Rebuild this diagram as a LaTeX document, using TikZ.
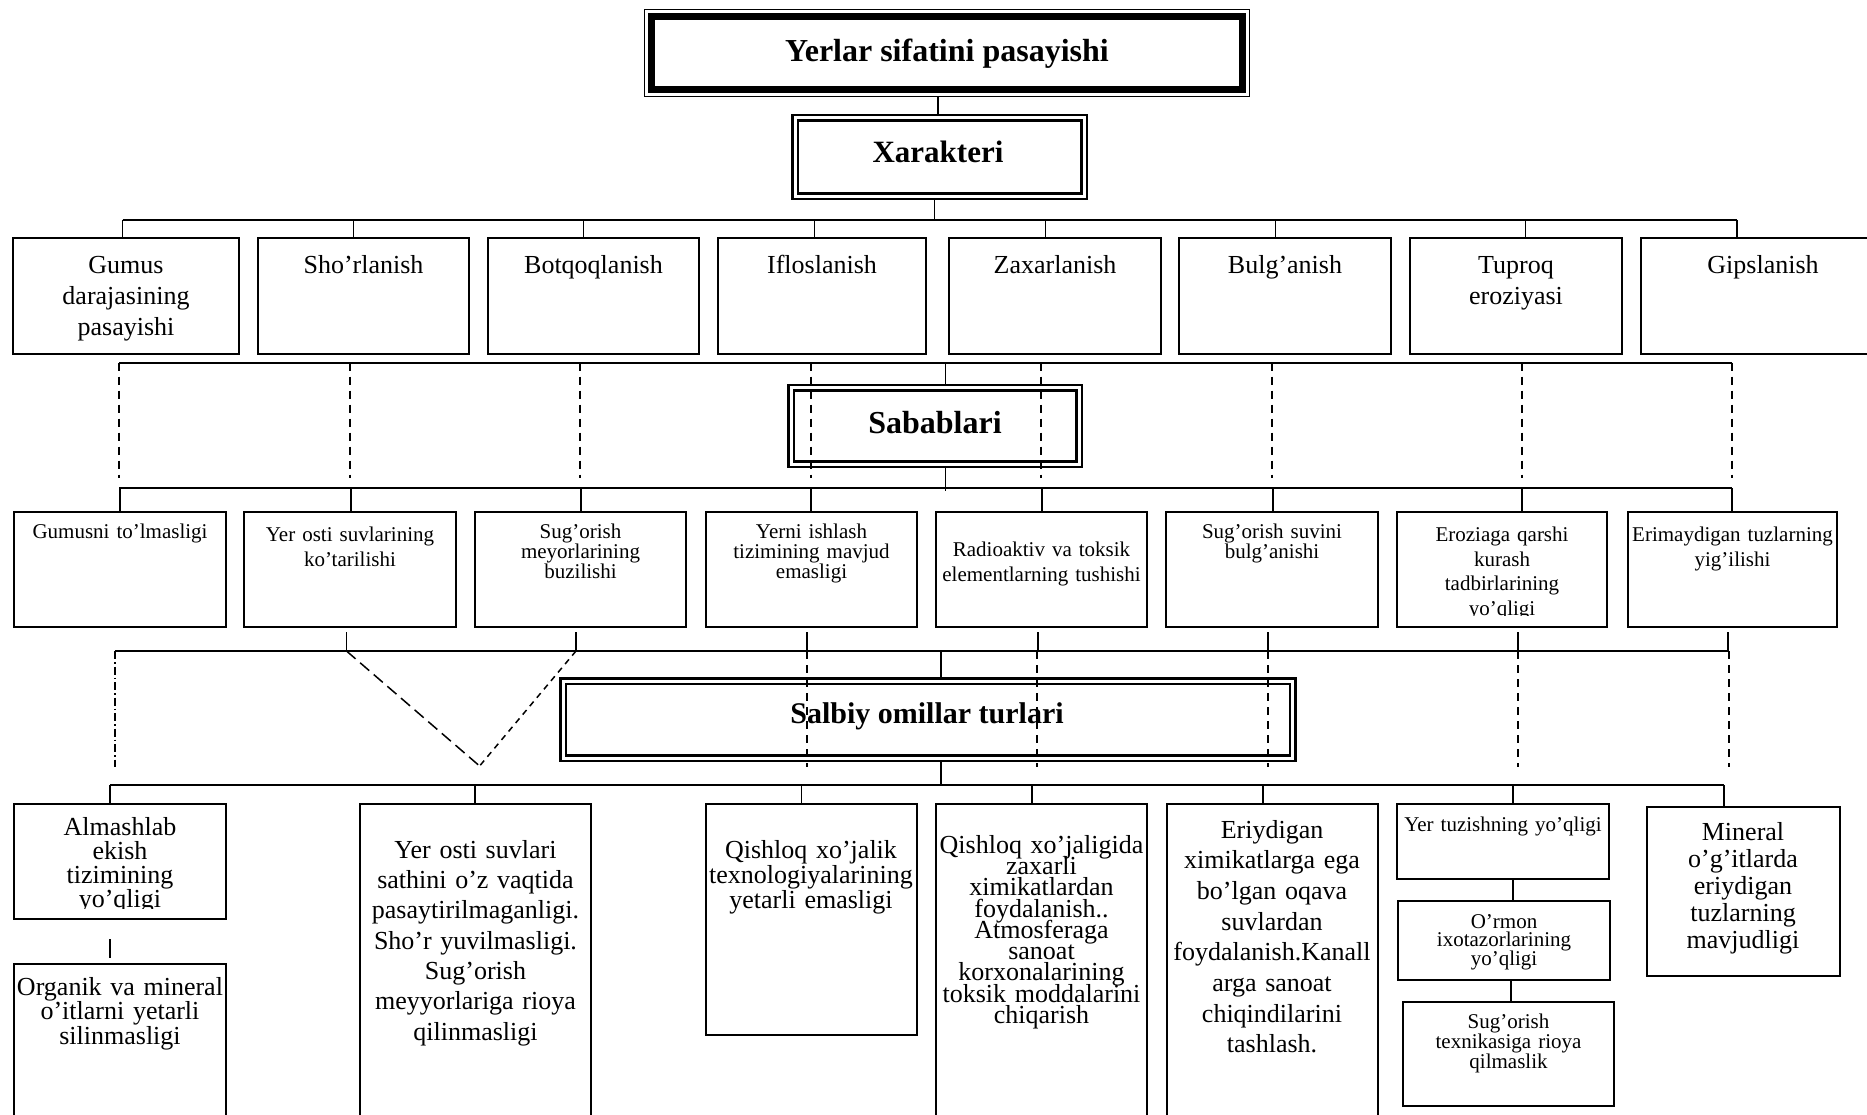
\documentclass[tikz,border=0pt]{standalone}
\usepackage{fontspec}
\setmainfont{Liberation Serif}
\usetikzlibrary{calc}
\newcommand\fsz[2]{\fontsize{#1}{#2}\selectfont\lineskiplimit=-100pt\relax}
\newcommand\bx[6][box]{\node[#1, minimum width={(#5-#3)*1pt}, minimum height={(#6-#4)*1pt}] (#2) at ({(#3+#5)/2},{(#4+#6)/2}) {};}
\newcommand\inner[1]{\draw[line width=2.6pt] ($(#1.north west)+(5.5,5.5)$) rectangle ($(#1.south east)+(-5.5,-5.5)$);}
\begin{document}
\begin{tikzpicture}[x=1pt,y=-1pt,
  box/.style={draw, line width=2pt, rectangle, inner sep=0pt, outer sep=0pt},
  thinbox/.style={draw, line width=1.2pt, rectangle, inner sep=0pt, outer sep=0pt},
  dbox/.style={draw, line width=2.2pt, rectangle, inner sep=0pt, outer sep=0pt},
  conn/.style={line width=1.5pt},
  bus/.style={line width=2.2pt},
  dsh/.style={line width=1.5pt, dash pattern=on 8pt off 6pt},
  ddot/.style={line width=1.5pt, dash pattern=on 8pt off 3pt on 1.5pt off 3pt},
  longdsh/.style={line width=1.5pt, dash pattern=on 12pt off 6pt},
  shortdsh/.style={line width=1.5pt, dash pattern=on 6pt off 5pt},
  txt/.style={anchor=base, align=center, text width=300pt, inner sep=0pt, outer sep=0pt},
  ttl/.style={anchor=base, inner sep=0pt, outer sep=0pt}]
\useasboundingbox (0,0) rectangle (1867,1115);
\fill[white] (0,0) rectangle (1867,1115);
\clip (0,0) rectangle (1867,1115);

% ---- top box
\bx[thinbox]{top}{644.5}{9.8}{1249.5}{96.5}
\draw[line width=7.4pt] ($(top.north west)+(6.8,6.8)$) rectangle ($(top.south east)+(-6.8,-6.8)$);
\node[ttl, font=\bfseries\fsz{32}{38}] (toptxt) at (947,62) {Yerlar sifatini pasayishi};

% ---- Xarakteri
\bx[dbox]{xar}{792.5}{115}{1087}{199}
\inner{xar}
\node[ttl, font=\bfseries\fsz{31}{36}] (xartxt) at (938,163) {Xarakteri};

\coordinate (c0) at (938,0);
\draw[conn] (c0 |- top.south) -- (c0 |- xar.north);
\coordinate (c1) at (934.7,0);
\coordinate (b0l) at (122.6,220);
\coordinate (b0r) at (1737.2,220);
\draw[conn] (c1 |- xar.south) -- (c1 |- b0l);
\draw[bus] (b0l) -- (b0r);

% ---- row 1
\bx{r1a}{12.7}{238.3}{239.3}{354}
\bx{r1b}{258}{238.3}{469}{354}
\bx{r1c}{488}{238.3}{699}{354}
\bx{r1d}{718}{238.3}{926}{354}
\bx{r1e}{949}{238.3}{1161}{354}
\bx{r1f}{1179}{238.3}{1391}{354}
\bx{r1g}{1410}{238.3}{1622}{354}
\bx{r1h}{1641}{238.3}{1885}{354}
\foreach \n/\x in {a/122.6,b/353.6,c/583.4,d/814.4,e/1045.4,f/1275.6,g/1525.3,h/1737.2}{
  \coordinate (d1\n) at (\x,220);
  \draw[conn] (d1\n) -- (d1\n |- r1\n.north);
}
\node[txt, font=\fsz{26}{31}] (t1a) at (126,273) {Gumus\\darajasining\\pasayishi};
\node[txt, font=\fsz{26}{31}] (t1b) at (363.5,273) {Sho’rlanish};
\node[txt, font=\fsz{26}{31}] (t1c) at (593.5,273) {Botqoqlanish};
\node[txt, font=\fsz{26}{31}] (t1d) at (822,273) {Ifloslanish};
\node[txt, font=\fsz{26}{31}] (t1e) at (1055,273) {Zaxarlanish};
\node[txt, font=\fsz{26}{31}] (t1f) at (1285,273) {Bulg’anish};
\node[txt, font=\fsz{26}{31}] (t1g) at (1516,273) {Tuproq\\eroziyasi};
\node[txt, font=\fsz{26}{31}] (t1h) at (1763,273) {Gipslanish};

% ---- bus 1 and Sabablari
\coordinate (b1l) at (119,362.7);
\coordinate (b1r) at (1732,362.7);
\draw[bus] (b1l) -- (b1r);
\bx[dbox]{sab}{788.5}{385}{1082}{467}
\inner{sab}
\node[ttl, font=\bfseries\fsz{32}{38}] (sabtxt) at (935,433) {Sabablari};
\coordinate (c2) at (945.4,362.7);
\draw[conn] (c2) -- (c2 |- sab.north);
\coordinate (c3) at (945.4,491);
\draw[conn] (c3 |- sab.south) -- (c3);
\foreach \i/\x in {1/119,2/350,3/580,4/811,5/1041,6/1272,7/1522,8/1732}{
  \coordinate (q\i) at (\x,362.7);
  \coordinate (p\i) at (\x,478);
  \draw[dsh] (q\i) -- (p\i);
}

% ---- bus 2 and row 2
\coordinate (b2l) at (119,488);
\coordinate (b2r) at (1732,488);
\draw[line width=2.8pt] (b2l) -- (b2r);
\bx{r2a}{14}{511.5}{225.7}{626.7}
\bx{r2b}{244}{511.5}{456}{626.7}
\bx{r2c}{475}{511.5}{686}{626.7}
\bx{r2d}{706}{511.5}{917}{626.7}
\bx{r2e}{936}{511.5}{1147}{626.7}
\bx{r2f}{1166}{511.5}{1378}{626.7}
\bx{r2g}{1397}{511.5}{1607}{626.7}
\bx{r2h}{1628}{511.5}{1837}{626.7}
\foreach \n/\x in {a/120,b/351,c/581,d/811,e/1042,f/1273,g/1522,h/1732}{
  \coordinate (d2\n) at (\x,488);
  \draw[conn] (d2\n) -- (d2\n |- r2\n.north);
}
\node[txt, font=\fsz{21}{25}] (t2a) at (120,538) {Gumusni to’lmasligi};
\node[txt, font=\fsz{21}{25}] (t2b) at (350,541.6) {Yer osti suvlarining\\ko’tarilishi};
\node[txt, font=\fsz{21}{20}] (t2c) at (580.5,538) {Sug’orish\\meyorlarining\\buzilishi};
\node[txt, font=\fsz{21}{20}] (t2d) at (811.5,538) {Yerni ishlash\\tizimining mavjud\\emasligi};
\node[txt, font=\fsz{21}{25}] (t2e) at (1041.5,556) {Radioaktiv va toksik\\elementlarning tushishi};
\node[txt, font=\fsz{21}{20}] (t2f) at (1272,538) {Sug’orish suvini\\bulg’anishi};
\begin{scope}
  \clip (r2g.north west) rectangle ($(r2g.south east)+(0,-11)$);
  \node[txt, font=\fsz{21}{24.6}] (t2g) at (1502,541.6) {Eroziaga qarshi\\kurash\\tadbirlarining\\yo’qligi};
\end{scope}
\node[txt, font=\fsz{21}{25}] (t2h) at (1732.5,541.6) {Erimaydigan tuzlarning\\yig’ilishi};

% ---- ticks, bus 3
\foreach \i/\x in {1/346.5,2/576,3/807,4/1038,5/1268,6/1518,7/1728}{
  \coordinate (k\i) at (\x,632);
  \coordinate (m\i) at (\x,651);
  \draw[conn] (k\i) -- (m\i);
}
\coordinate (b3l) at (115,651);
\coordinate (b3r) at (1728,651);
\draw[bus] (b3l) -- (b3r);

% ---- Salbiy box
\bx[dbox]{sal}{560.5}{678.5}{1295.5}{761}
\inner{sal}
\node[ttl, font=\bfseries\fsz{30}{36}] (saltxt) at (927,723) {Salbiy omillar turlari};
\coordinate (c4) at (941,651);
\draw[conn] (c4) -- (c4 |- sal.north);
\coordinate (b4l) at (110,785);
\coordinate (b4r) at (1724,785);
\draw[conn] (c4 |- sal.south) -- (c4 |- b4l);

% dashed lines through Salbiy level
\coordinate (e0) at (115,767);
\draw[ddot] (b3l) -- (e0);
\foreach \i/\x in {3/807,4/1037,5/1268,6/1518,7/1729}{
  \coordinate (e\i) at (\x,767);
  \draw[dsh] (\x,651) coordinate (s\i) -- (e\i);
}
\coordinate (vtip) at (479.6,766);
\draw[longdsh] (m1) -- (vtip);
\draw[shortdsh] (m2) -- (vtip);

% ---- bus 4 and row 3
\draw[bus] (b4l) -- (b4r);
\bx{r3a}{14}{804}{226}{919}
\bx{r3aa}{14}{964}{226}{1135}
\bx{r3b}{360}{804}{591}{1135}
\bx{r3c}{706}{804}{917}{1035}
\bx{r3d}{936}{804}{1147}{1135}
\bx{r3e}{1167}{804}{1378}{1135}
\bx{r3f}{1397}{804}{1609}{879}
\bx{r3g}{1398}{901}{1610}{980}
\bx{r3h}{1403}{1002}{1614}{1106}
\bx{r3i}{1647}{807}{1840}{976}
\foreach \n/\x in {a/110,b/475,c/801.5,d/1032,e/1263,f/1513,i/1724}{
  \coordinate (d3\n) at (\x,785);
  \draw[conn] (d3\n) -- (d3\n |- r3\n.north);
}
\coordinate (ta1) at (110,939);
\coordinate (ta2) at (110,958);
\draw[conn] (ta1) -- (ta2);
\coordinate (fg) at (1513,0);
\draw[conn] (fg |- r3f.south) -- (fg |- r3g.north);
\coordinate (gh) at (1511,0);
\draw[conn] (gh |- r3g.south) -- (gh |- r3h.north);

\begin{scope}
  \clip (r3a.north west) rectangle ($(r3a.south east)+(0,-11)$);
  \node[txt, font=\fsz{26}{24.3}] (t3a) at (120,835) {Almashlab\\ekish\\tizimining\\yo’qligi};
\end{scope}
\node[txt, font=\fsz{26}{24.5}] (t3aa) at (120,995) {Organik va mineral\\o’itlarni yetarli\\silinmasligi};
\node[txt, font=\fsz{26}{30.3}] (t3b) at (475.5,858.3) {Yer osti suvlari\\sathini o’z vaqtida\\pasaytirilmaganligi.\\Sho’r yuvilmasligi.\\Sug’orish\\meyyorlariga rioya\\qilinmasligi};
\node[txt, font=\fsz{26}{25}] (t3c) at (811,858) {Qishloq xo’jalik\\texnologiyalarining\\yetarli emasligi};
\node[txt, font=\fsz{26}{21.25}] (t3d) at (1041.5,853.3) {Qishloq xo’jaligida\\zaxarli\\ximikatlardan\\foydalanish..\\Atmosferaga\\sanoat\\korxonalarining\\toksik moddalarini\\chiqarish};
\node[txt, font=\fsz{26}{30.7}] (t3e) at (1272,838) {Eriydigan\\ximikatlarga ega\\bo’lgan oqava\\suvlardan\\foydalanish.Kanall\\arga sanoat\\chiqindilarini\\tashlash.};
\node[txt, font=\fsz{21}{25}] (t3f) at (1503,831) {Yer tuzishning yo’qligi};
\node[txt, font=\fsz{21}{18.7}] (t3g) at (1504,928) {O’rmon\\ixotazorlarining\\yo’qligi};
\node[txt, font=\fsz{21}{20}] (t3h) at (1508.5,1028) {Sug’orish\\texnikasiga rioya\\qilmaslik};
\node[txt, font=\fsz{26}{27}] (t3i) at (1743,840) {Mineral\\o’g’itlarda\\eriydigan\\tuzlarning\\mavjudligi};
\end{tikzpicture}
\end{document}
